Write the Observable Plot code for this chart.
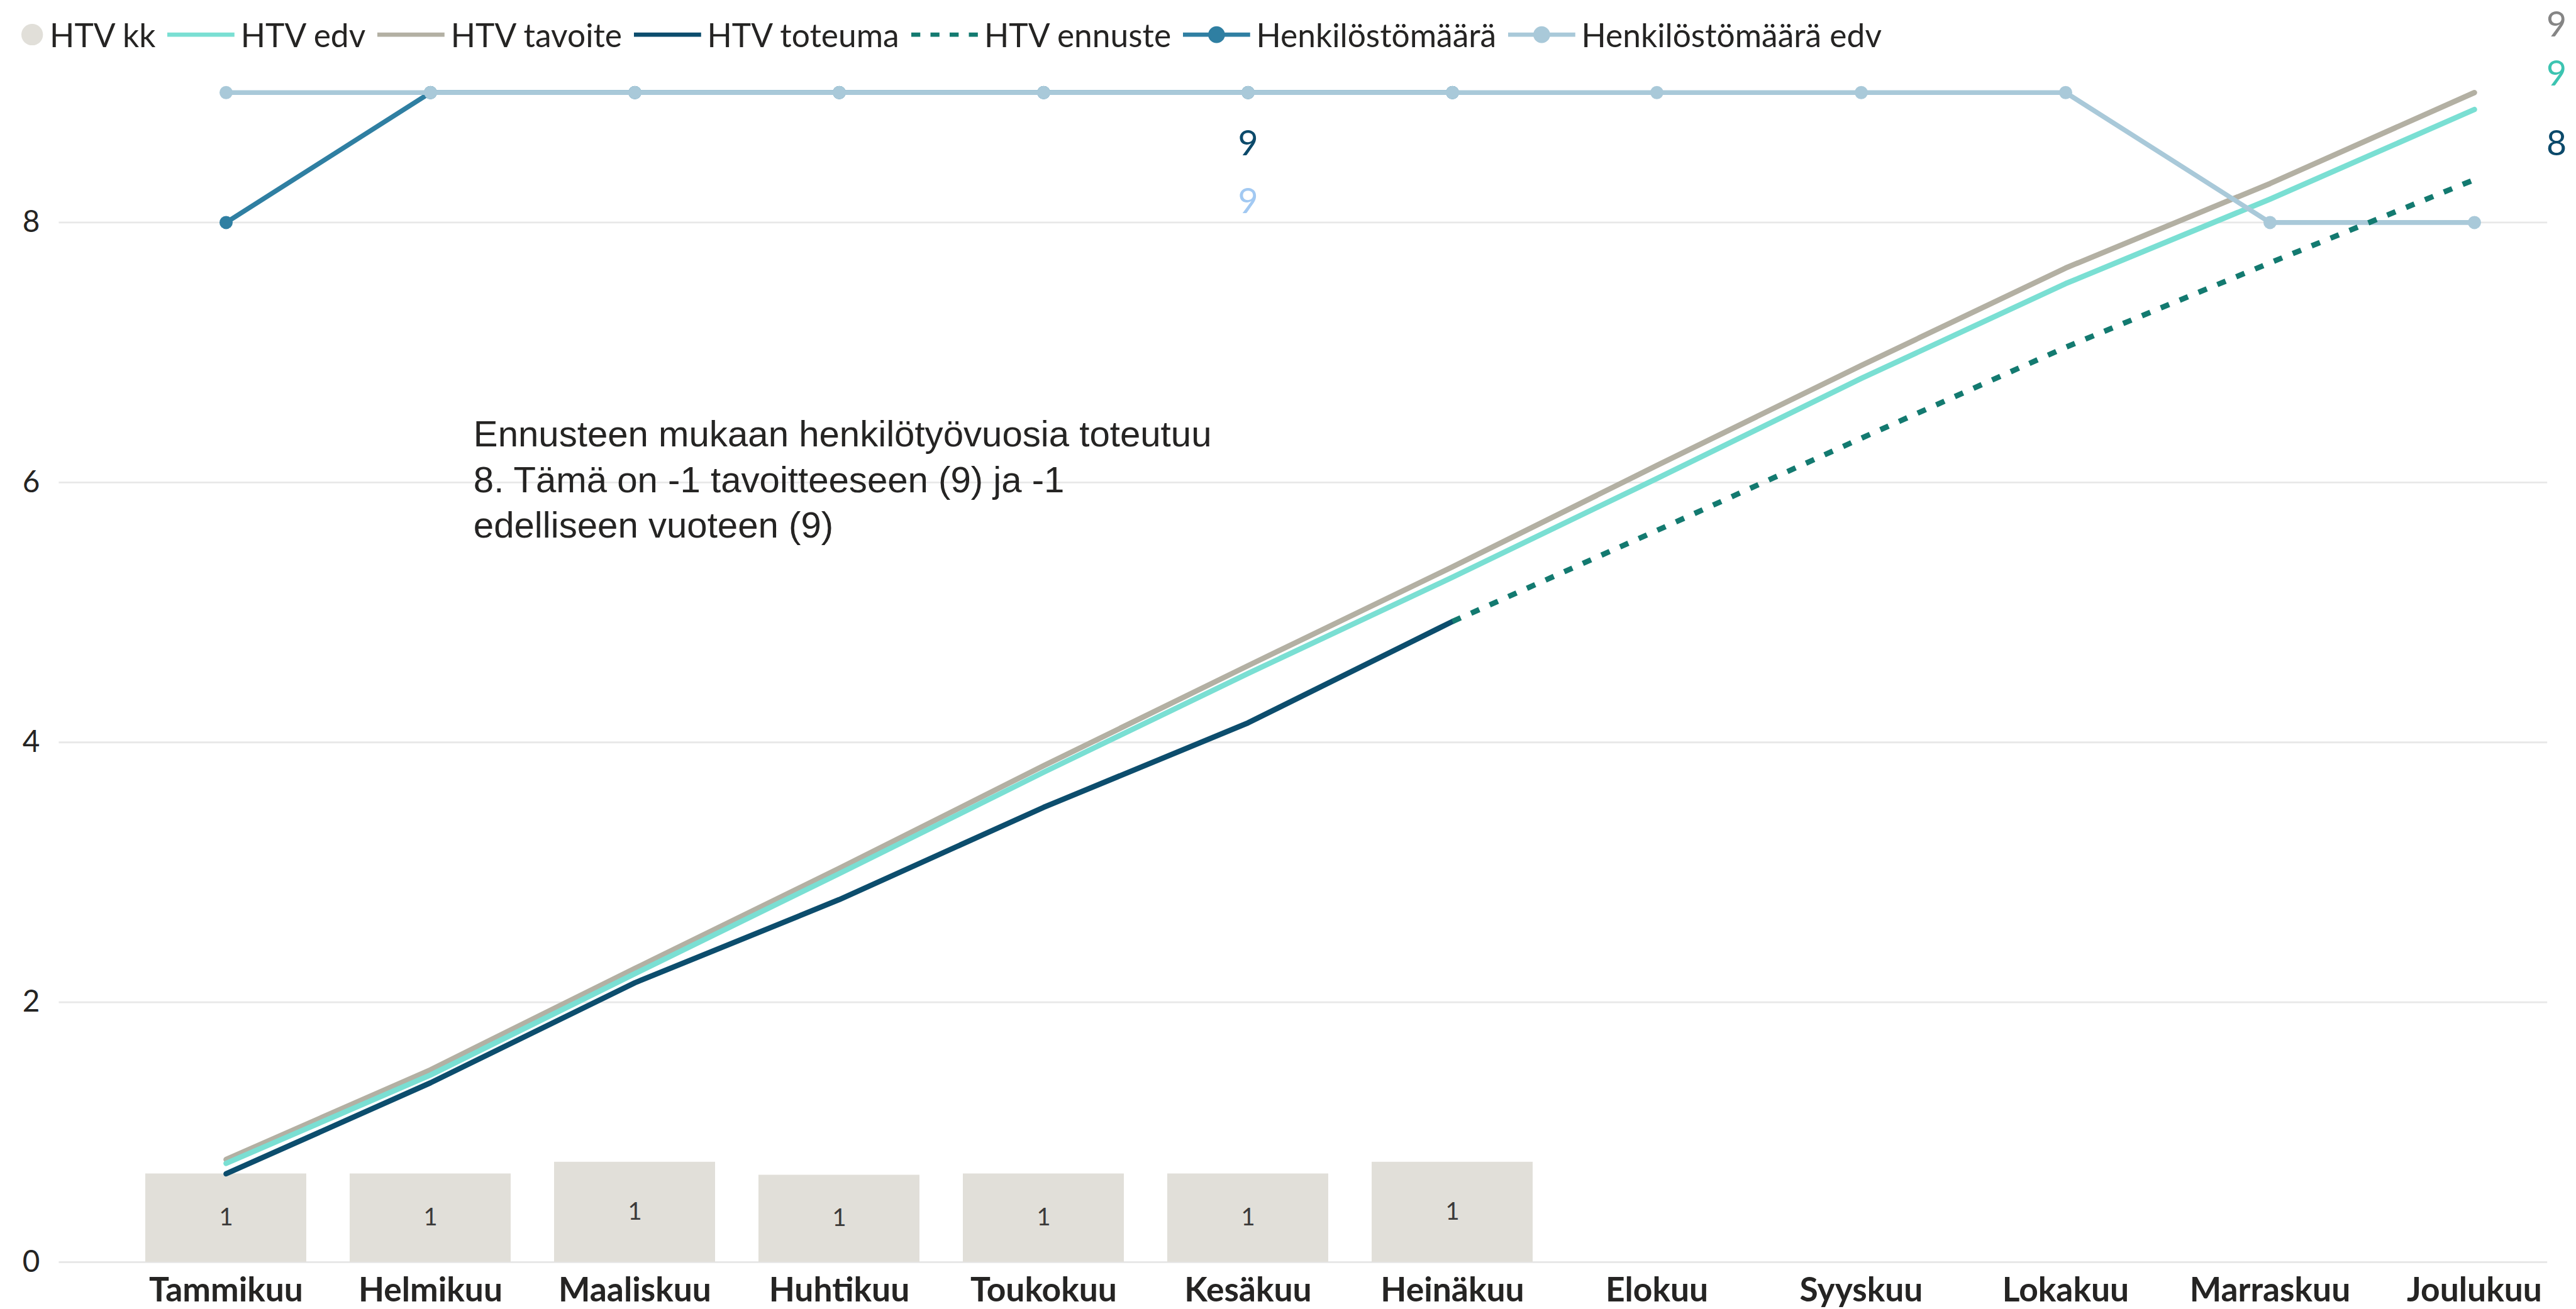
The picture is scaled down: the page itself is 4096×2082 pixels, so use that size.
<!DOCTYPE html>
<html><head><meta charset="utf-8">
<script src="https://cdn.jsdelivr.net/npm/d3@7"></script>
<script src="https://cdn.jsdelivr.net/npm/@observablehq/plot@0.6"></script>
<style>
html,body{margin:0;padding:0;background:#fff;}
#wrap{position:relative;width:4096px;height:2082px;overflow:hidden;background:#fff;}
#legend{position:absolute;left:0;top:0;height:110px;display:flex;align-items:center;font-family:Lato,sans-serif;font-size:51.5px;color:#252423;white-space:nowrap;}
#legend .item{display:flex;align-items:center;}
#legend svg{display:block;}
</style></head>
<body><div id="wrap"><div id="chart"></div><div id="legend"></div></div>
<script>
// ---- data ----
const months = ["Tammikuu","Helmikuu","Maaliskuu","Huhtikuu","Toukokuu","Kesäkuu","Heinäkuu","Elokuu","Syyskuu","Lokakuu","Marraskuu","Joulukuu"];
const seriesNames = ["HTV kk","HTV edv","HTV tavoite","HTV toteuma","HTV ennuste","Henkilöstömäärä","Henkilöstömäärä edv"];
const htvKk = [0.68,0.68,0.77,0.67,0.68,0.68,0.77,null,null,null,null,null];
const htvEdv = [0.76,1.44,2.22,2.99,3.77,4.53,5.27,6.03,6.80,7.53,8.18,8.87];
const htvTavoite = [0.79,1.48,2.26,3.03,3.82,4.59,5.35,6.13,6.90,7.65,8.30,9.00];
const htvToteuma = [0.68,1.38,2.15,2.79,3.50,4.15,4.93,null,null,null,null,null];
const htvEnnuste = [null,null,null,null,null,null,4.93,5.63,6.34,7.04,7.69,8.33];
const henkilostomaara = [8,9,9,9,9,9,9,null,null,null,null,null];
const henkilostomaaraEdv = [9,9,9,9,9,9,9,9,9,9,8,8];
const yTicks = [0,2,4,6,8];

// ---- styling ----
const s = 4096/4296;
const W = 4096, H = 2082;
const C = {kk:"#E1DFD9", edv:"#7ADFD3", tav:"#B3B0A3", tot:"#0C4D6D", enn:"#137A70", hk:"#2F7FA2", hkEdv:"#A9C9D9"};

const rows = months.map((m,i)=>({month:m, kk:htvKk[i], edv:htvEdv[i], tav:htvTavoite[i], tot:htvToteuma[i], enn:htvEnnuste[i], hk:henkilostomaara[i], hkEdv:henkilostomaaraEdv[i]}));
const has = k => rows.filter(d => d[k] != null);
const last = arr => arr.filter(v => v != null).slice(-1)[0];
const lastRow = rows[rows.length-1];
const fmt = d3.format(".0f");

const fc = Math.round(last(htvEnnuste)), tg = Math.round(last(htvTavoite)), pv = Math.round(last(htvEdv));
const annotation = `Ennusteen mukaan henkilötyövuosia toteutuu\n${fc}. Tämä on ${fc-tg} tavoitteeseen (${tg}) ja ${fc-pv}\nedelliseen vuoteen (${pv})`;

const lw = 9*s, hw = 8*s, labelFs = 58*s;
const midRow = rows[5];

const chart = Plot.plot({
  width: W, height: H,
  marginLeft: 98*s, marginRight: 48*s, marginTop: 153.9*s, marginBottom: H - 2105*s,
  style: {fontFamily: "Lato, sans-serif", background: "white", color: "#252423", overflow: "visible"},
  x: {type: "band", domain: months, range: [176*s, 4326*s], paddingInner: 0.2125, paddingOuter: 0.18, label: null},
  y: {domain: [0, 9], label: null},
  marks: [
    Plot.gridY(yTicks, {stroke: "#E8E8E8", strokeOpacity: 1, strokeWidth: 3*s}),
    Plot.axisY(yTicks, {tickSize: 0, tickPadding: 32*s, tickFormat: d3.format("d"), fontSize: 50*s, fill: "#252423", label: null}),
    Plot.axisX({tickSize: 0, tickPadding: 26*s, fontSize: 56*s, fontWeight: "bold", fill: "#252423", label: null}),
    Plot.barY(has("kk"), {x: "month", y: "kk", fill: C.kk}),
    Plot.text(has("kk"), {x: "month", y: d => d.kk/2, text: d => fmt(d.kk), fontSize: 40*s, fill: "#3b3a39"}),
    Plot.line(has("tav"), {x: "month", y: "tav", stroke: C.tav, strokeWidth: lw}),
    Plot.line(has("edv"), {x: "month", y: "edv", stroke: C.edv, strokeWidth: lw}),
    Plot.line(has("tot"), {x: "month", y: "tot", stroke: C.tot, strokeWidth: lw}),
    Plot.line(has("hk"), {x: "month", y: "hk", stroke: C.hk, strokeWidth: hw}),
    Plot.dot(has("hk"), {x: "month", y: "hk", fill: C.hk, r: 11*s}),
    Plot.line(has("hkEdv"), {x: "month", y: "hkEdv", stroke: C.hkEdv, strokeWidth: hw}),
    Plot.dot(has("hkEdv"), {x: "month", y: "hkEdv", fill: C.hkEdv, r: 11*s}),
    Plot.line(has("enn"), {x: "month", y: "enn", stroke: C.enn, strokeWidth: lw, strokeDasharray: `${15*s},${19*s}`, strokeLinecap: "butt"}),
    // end labels
    Plot.text([lastRow], {x: "month", y: "tav", text: d => fmt(d.tav), dx: 137*s, dy: -106.7, fontSize: labelFs, fill: "#858585"}),
    Plot.text([lastRow], {x: "month", y: "edv", text: d => fmt(d.edv), dx: 137*s, dy: -55.4, fontSize: labelFs, fill: "#3CC4B1"}),
    Plot.text([lastRow], {x: "month", y: "enn", text: d => fmt(d.enn), dx: 137*s, dy: -56.4, fontSize: labelFs, fill: "#0C4A6B"}),
    // mid labels
    Plot.text([midRow], {x: "month", y: "hk", text: d => fmt(d.hk), dy: 82.1, fontSize: labelFs, fill: "#0C4A6B"}),
    Plot.text([midRow], {x: "month", y: "hkEdv", text: d => fmt(d.hkEdv), dy: 173.7, fontSize: labelFs, fill: "#A2C9F2"}),
    // annotation
    Plot.text([annotation], {frameAnchor: "top-left", text: d => d, dx: 658.9, dy: 511, textAnchor: "start", lineAnchor: "top", lineHeight: 1.25, fontSize: 61*s, fontFamily: "Liberation Sans, Arial, sans-serif", fill: "#252423"})
  ]
});
document.getElementById("chart").appendChild(chart);

// ---- legend ----
const kinds = ["circle","line","line","line","dash","marker","marker"];
const lcolors = [C.kk, C.edv, C.tav, C.tot, C.enn, C.hk, C.hkEdv];
const legend = d3.select("#legend").style("padding-left", (36*s)+"px");
seriesNames.forEach((name, i) => {
  const item = legend.append("div").attr("class","item").style("margin-left", i === 0 ? "0px" : (20*s)+"px");
  const kind = kinds[i];
  if (kind === "circle") {
    const sv = item.append("svg").attr("width", 36*s).attr("height", 36*s);
    sv.append("circle").attr("cx", 18*s).attr("cy", 18*s).attr("r", 18*s).attr("fill", lcolors[i]);
    item.append("span").style("margin-left", (11*s)+"px").text(name);
  } else {
    const w = 112*s, h = 36*s;
    const sv = item.append("svg").attr("width", w).attr("height", h);
    const ln = sv.append("line").attr("x1", 0).attr("x2", w).attr("y1", h/2).attr("y2", h/2)
      .attr("stroke", lcolors[i]).attr("stroke-width", 7*s);
    if (kind === "dash") ln.attr("stroke-dasharray", `${15*s},${17*s}`);
    if (kind === "marker") sv.append("circle").attr("cx", w/2).attr("cy", h/2).attr("r", 14*s).attr("fill", lcolors[i]);
    item.append("span").style("margin-left", (10*s)+"px").text(name);
  }
});
</script></body></html>
